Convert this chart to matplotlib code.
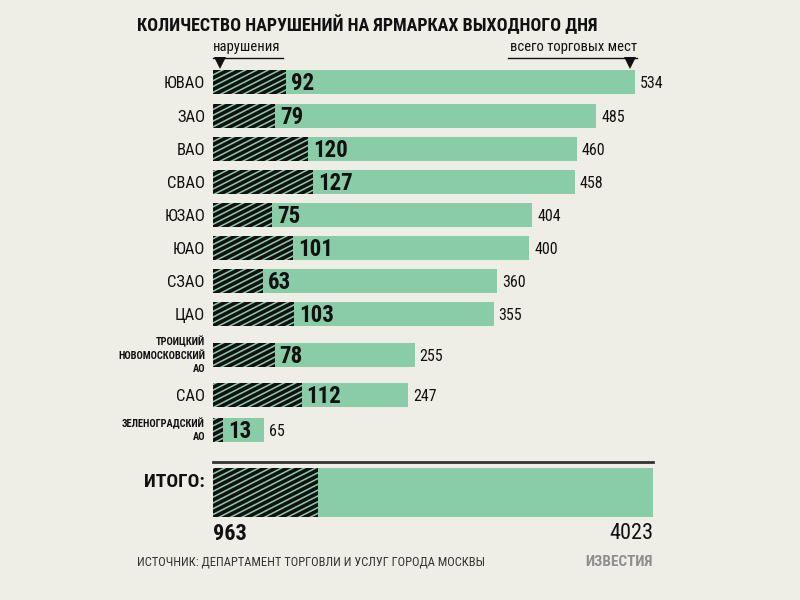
import matplotlib
matplotlib.use('Agg')
import matplotlib.pyplot as plt
import numpy as np
from matplotlib.collections import LineCollection
from matplotlib.transforms import IdentityTransform

plt.rcParams['font.family'] = ['Roboto Condensed', 'DejaVu Sans']

# --- data --------------------------------------------------------------------
DISTRICTS = ['ЮВАО', 'ЗАО', 'ВАО', 'СВАО', 'ЮЗАО', 'ЮАО', 'СЗАО', 'ЦАО',
             'ТРОИЦКИЙ\nНОВОМОСКОВСКИЙ\nАО', 'САО', 'ЗЕЛЕНОГРАДСКИЙ\nАО']
VIOLATIONS = [92, 79, 120, 127, 75, 101, 63, 103, 78, 112, 13]
SEATS = [534, 485, 460, 458, 404, 400, 360, 355, 255, 247, 65]
TOTAL_VIOL = 963
TOTAL_SEATS = 4023

TITLE = 'КОЛИЧЕСТВО НАРУШЕНИЙ НА ЯРМАРКАХ ВЫХОДНОГО ДНЯ'
SOURCE = 'ИСТОЧНИК: ДЕПАРТАМЕНТ ТОРГОВЛИ И УСЛУГ ГОРОДА МОСКВЫ'

# --- layout / style ----------------------------------------------------------
BG = '#efeee6'
GREEN = '#88cca8'
DARK = '#111111'
ROW_Y = [82, 116, 149, 182, 215, 248, 281, 314, 355, 395, 430]
BAR_H = 24
X0, X1 = 213, 653          # bar area in pixels
X_MAX_ROW = 635            # end of the longest district bar


# --- stripes clipped to a bar ------------------------------------------------
def addStripes(ax, patch, step=5.8, ang=27, lw=2.6):
    bb = patch.get_window_extent()
    tg = np.tan(np.radians(ang))
    w = bb.x1 - bb.x0
    segs = []
    c = bb.y0 - w * tg - step
    while c < bb.y1 + step:
        segs.append([(bb.x0 - 2, c), (bb.x1 + 2, c + (w + 4) * tg)])
        c += step
    lc = LineCollection(segs, colors=DARK, linewidths=lw,
                        transform=IdentityTransform())
    ax.add_collection(lc, autolim=False)
    lc.set_clip_path(patch)


fig = plt.figure(figsize=(8, 6), dpi=100)
fig.patch.set_facecolor(BG)

# overlay axes in pixel units for decorations
axD = fig.add_axes([0, 0, 1, 1])
axD.set_xlim(0, 800)
axD.set_ylim(600, 0)
axD.axis('off')

# district bars
rect = [X0 / 800, 0, (X1 - X0) / 800, 1]
ax = fig.add_axes(rect)
ax.set_xlim(0, SEATS[0] * (X1 - X0) / (X_MAX_ROW - X0))
ax.set_ylim(600, 0)
ax.axis('off')

ax.barh(ROW_Y, SEATS, height=BAR_H, color=GREEN, lw=0)
hb = ax.barh(ROW_Y, VIOLATIONS, height=BAR_H, color='none', lw=0)
for p in hb.patches:
    addStripes(ax, p)

for y, lab, v, s in zip(ROW_Y, DISTRICTS, VIOLATIONS, SEATS):
    multi = '\n' in lab
    ax.annotate(lab, xy=(0, y), xytext=(-8, 0), textcoords='offset pixels',
                ha='right', va='center' if multi else 'center_baseline',
                fontsize=7.5 if multi else 12,
                fontweight='bold' if multi else 'normal', color=DARK,
                linespacing=1.45)
    ax.annotate(str(v), xy=(v, y), xytext=(5, 1), textcoords='offset pixels',
                ha='left', va='center_baseline', fontsize=16.5,
                fontweight='bold', color=DARK)
    ax.annotate(str(s), xy=(s, y), xytext=(5, 0), textcoords='offset pixels',
                ha='left', va='center_baseline', fontsize=11.5, color=DARK)

# total bar
axT = fig.add_axes(rect)
axT.set_xlim(0, TOTAL_SEATS)
axT.set_ylim(600, 0)
axT.axis('off')
axT.barh([492.5], [TOTAL_SEATS], height=49, color=GREEN, lw=0)
tb = axT.barh([492.5], [TOTAL_VIOL], height=49, color='none', lw=0)
addStripes(axT, tb.patches[0])
axT.annotate('ИТОГО:', xy=(0, 480), xytext=(-8, 0), textcoords='offset pixels',
             ha='right', va='center_baseline', fontsize=14, fontweight='bold',
             color=DARK)
axT.text(0, 531, str(TOTAL_VIOL), ha='left', va='center_baseline',
         fontsize=16, fontweight='bold', color=DARK)
axT.text(TOTAL_SEATS, 531, str(TOTAL_SEATS), ha='right',
         va='center_baseline', fontsize=16, color=DARK)

# decorations
axD.text(137, 23, TITLE, ha='left', va='center_baseline', fontsize=13,
         fontweight='bold', color=DARK)
axD.text(213, 47, 'нарушения', ha='left', va='center', fontsize=10.5,
         color=DARK)
axD.plot([213, 283], [58, 58], color=DARK, lw=1)
axD.plot([220], [63], marker='v', ms=8, color=DARK, mew=0)
axD.text(637, 47, 'всего торговых мест', ha='right', va='center',
         fontsize=10.5, color=DARK)
axD.plot([508, 637], [58, 58], color=DARK, lw=1)
axD.plot([630], [63], marker='v', ms=8, color=DARK, mew=0)
axD.plot([X0, X1], [462, 462], color='#333333', lw=2)
axD.text(137, 562, SOURCE, ha='left', va='center', fontsize=9,
         color='#333333')
axD.text(653, 560, 'ИЗВЕСТИЯ', ha='right', va='center_baseline', fontsize=11,
         fontweight='bold', color='#8e8e8e')

fig.savefig('out.png', dpi=100, facecolor=BG)
